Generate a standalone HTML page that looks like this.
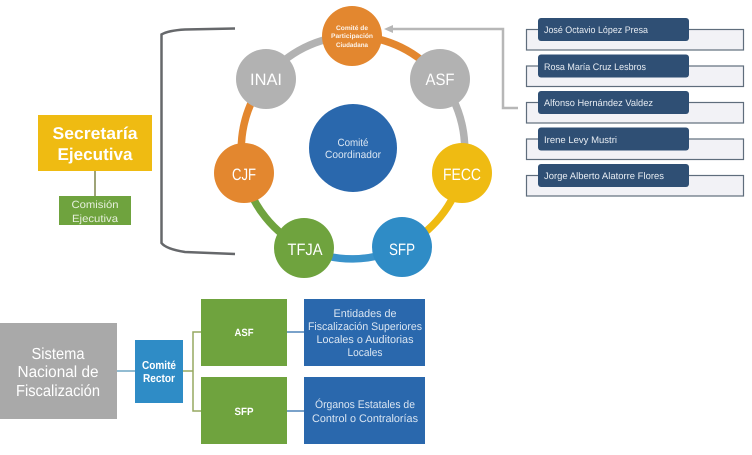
<!DOCTYPE html>
<html><head><meta charset="utf-8"><style>
html,body{margin:0;padding:0;background:#fff;width:752px;height:455px;overflow:hidden}
svg{display:block;filter:blur(.35px)}
text{font-family:"Liberation Sans",sans-serif;fill:#fff;text-anchor:middle;text-rendering:geometricPrecision}
.s{text-anchor:start;fill:#e8edf3}
</style></head><body>
<svg width="752" height="455" viewBox="0 0 752 455" xmlns="http://www.w3.org/2000/svg">
<rect width="752" height="455" fill="#fff"/>
<!-- bracket -->
<path d="M235 28.500 L185 29.500 Q168 30.500 161.500 34.500 L161.500 243 Q166 249 185 252 L235 254" fill="none" stroke="#66686b" stroke-width="2.500"/>
<!-- ring -->
<g fill="none" stroke-width="7.500">
<path d="M352 36 A111 111 0 0 1 440 79" stroke="#e3872f"/>
<path d="M440 79 A111 111 0 0 1 462 173" stroke="#b2b2b2"/>
<path d="M462 173 A111 111 0 0 1 402 247" stroke="#efbb12"/>
<path d="M402 247 A111 111 0 0 1 304 248" stroke="#3a93cb"/>
<path d="M304 248 A111 111 0 0 1 244 173" stroke="#6fa33e"/>
<path d="M244 173 A111 111 0 0 1 266 79" stroke="#e3872f"/>
<path d="M266 79 A111 111 0 0 1 352 36" stroke="#b2b2b2"/>
</g>
<circle cx="352" cy="36" r="30" fill="#e3872f"/>
<circle cx="440" cy="79" r="30" fill="#b2b2b2"/>
<circle cx="462" cy="173" r="30" fill="#efbb12"/>
<circle cx="402" cy="247" r="30" fill="#2f8cc6"/>
<circle cx="304" cy="248" r="30" fill="#6fa33e"/>
<circle cx="244" cy="173" r="30" fill="#e3872f"/>
<circle cx="266" cy="79" r="30" fill="#b2b2b2"/>
<circle cx="353" cy="148" r="44" fill="#2a68ad"/>
<g style="opacity:.9">
<text x="352" y="30" font-size="6.500" font-weight="bold" textLength="32" lengthAdjust="spacingAndGlyphs">Comité de</text>
<text x="352" y="38" font-size="6.500" font-weight="bold" textLength="42" lengthAdjust="spacingAndGlyphs">Participación</text>
<text x="352" y="47" font-size="6.500" font-weight="bold" textLength="32" lengthAdjust="spacingAndGlyphs">Ciudadana</text>
</g>
<g font-size="16.500">
<text x="266" y="85" textLength="32" lengthAdjust="spacingAndGlyphs">INAI</text>
<text x="440" y="85" textLength="29" lengthAdjust="spacingAndGlyphs">ASF</text>
<text x="462" y="180" textLength="38" lengthAdjust="spacingAndGlyphs">FECC</text>
<text x="244" y="180" textLength="24" lengthAdjust="spacingAndGlyphs">CJF</text>
<text x="305" y="255" textLength="35" lengthAdjust="spacingAndGlyphs">TFJA</text>
<text x="402" y="255" textLength="26" lengthAdjust="spacingAndGlyphs">SFP</text>
</g>
<text x="353" y="146" font-size="10.500" textLength="31" lengthAdjust="spacingAndGlyphs" style="fill:#dbe6f2">Comité</text>
<text x="353" y="158" font-size="10.500" textLength="56" lengthAdjust="spacingAndGlyphs" style="fill:#dbe6f2">Coordinador</text>
<!-- gray connector -->
<path d="M390 29 H503 V108 H518" fill="none" stroke="#b7b7b7" stroke-width="2.500"/>
<path d="M384 29 L393 25 L393 33 Z" fill="#b7b7b7"/>
<!-- list -->
<g fill="#f2f2f6" stroke="#5f6d7c" stroke-width="1.200">
<rect x="526.500" y="29.500" width="217" height="20.500"/>
<rect x="526.500" y="66" width="217" height="20.500"/>
<rect x="526.500" y="102.500" width="217" height="20.500"/>
<rect x="526.500" y="139" width="217" height="20.500"/>
<rect x="526.500" y="175.500" width="217" height="20.500"/>
</g>
<g fill="#2f4f74">
<rect x="538" y="18" width="151" height="23" rx="3"/>
<rect x="538" y="54.500" width="151" height="23" rx="3"/>
<rect x="538" y="91" width="151" height="23" rx="3"/>
<rect x="538" y="127.500" width="151" height="23" rx="3"/>
<rect x="538" y="164" width="151" height="23" rx="3"/>
</g>
<g font-size="9.500">
<text class="s" x="544" y="33" textLength="104" lengthAdjust="spacingAndGlyphs">José Octavio López Presa</text>
<text class="s" x="544" y="70" textLength="102" lengthAdjust="spacingAndGlyphs">Rosa María Cruz Lesbros</text>
<text class="s" x="544" y="106" textLength="109" lengthAdjust="spacingAndGlyphs">Alfonso Hernández Valdez</text>
<text class="s" x="544" y="143" textLength="73" lengthAdjust="spacingAndGlyphs">Irene Levy Mustri</text>
<text class="s" x="544" y="179" textLength="120" lengthAdjust="spacingAndGlyphs">Jorge Alberto Alatorre Flores</text>
</g>
<!-- secretaria -->
<path d="M95 171 V196" stroke="#9ea377" stroke-width="2" fill="none"/>
<rect x="38" y="115" width="114" height="56" fill="#efbb12"/>
<rect x="59" y="196" width="72" height="29" fill="#6fa33e"/>
<text x="95" y="139" font-size="17" font-weight="bold" textLength="85" lengthAdjust="spacingAndGlyphs">Secretaría</text>
<text x="95" y="160" font-size="17" font-weight="bold" textLength="75" lengthAdjust="spacingAndGlyphs">Ejecutiva</text>
<text x="95" y="208" font-size="10.500" textLength="47" lengthAdjust="spacingAndGlyphs" style="fill:#e6efdc">Comisión</text>
<text x="95" y="222" font-size="10.500" textLength="46" lengthAdjust="spacingAndGlyphs" style="fill:#e6efdc">Ejecutiva</text>
<!-- bottom -->
<path d="M117 371 H135" stroke="#6fa5c4" stroke-width="1.500" fill="none"/>
<path d="M183 371 H193 M201 332 H193 V411 H201" stroke="#95a860" stroke-width="1.500" fill="none"/>
<path d="M287 332 H304 M287 411 H304" stroke="#4f84b8" stroke-width="1.500" fill="none"/>
<rect x="0" y="323" width="117" height="96" fill="#a9a9a9"/>
<rect x="135" y="340" width="48" height="63" fill="#2f8cc6"/>
<rect x="201" y="299" width="86" height="67" fill="#6fa33e"/>
<rect x="201" y="377" width="86" height="67" fill="#6fa33e"/>
<rect x="304" y="299" width="121" height="67" fill="#2a68ad"/>
<rect x="304" y="377" width="121" height="67" fill="#2a68ad"/>
<g font-size="16" style="fill:#f2f2f2">
<text x="58" y="359" textLength="53" lengthAdjust="spacingAndGlyphs">Sistema</text>
<text x="58" y="377" textLength="81" lengthAdjust="spacingAndGlyphs">Nacional de</text>
<text x="58" y="396" textLength="84" lengthAdjust="spacingAndGlyphs">Fiscalización</text>
</g>
<g font-size="11.500" font-weight="bold">
<text x="159" y="369" textLength="34" lengthAdjust="spacingAndGlyphs">Comité</text>
<text x="159" y="382" textLength="32" lengthAdjust="spacingAndGlyphs">Rector</text>
</g>
<g font-size="10.500" font-weight="bold">
<text x="244" y="336" textLength="19" lengthAdjust="spacingAndGlyphs">ASF</text>
<text x="244" y="415" textLength="19" lengthAdjust="spacingAndGlyphs">SFP</text>
</g>
<g font-size="11">
<text x="365" y="317" textLength="63" lengthAdjust="spacingAndGlyphs" style="fill:#dbe6f2">Entidades de</text>
<text x="365" y="330" textLength="114" lengthAdjust="spacingAndGlyphs" style="fill:#dbe6f2">Fiscalización Superiores</text>
<text x="365" y="343" textLength="97" lengthAdjust="spacingAndGlyphs" style="fill:#dbe6f2">Locales o Auditorias</text>
<text x="365" y="356" textLength="35" lengthAdjust="spacingAndGlyphs" style="fill:#dbe6f2">Locales</text>
<text x="365" y="408" textLength="100" lengthAdjust="spacingAndGlyphs" style="fill:#dbe6f2">Órganos Estatales de</text>
<text x="365" y="422" textLength="106" lengthAdjust="spacingAndGlyphs" style="fill:#dbe6f2">Control o Contralorías</text>
</g>
</svg>
</body></html>
